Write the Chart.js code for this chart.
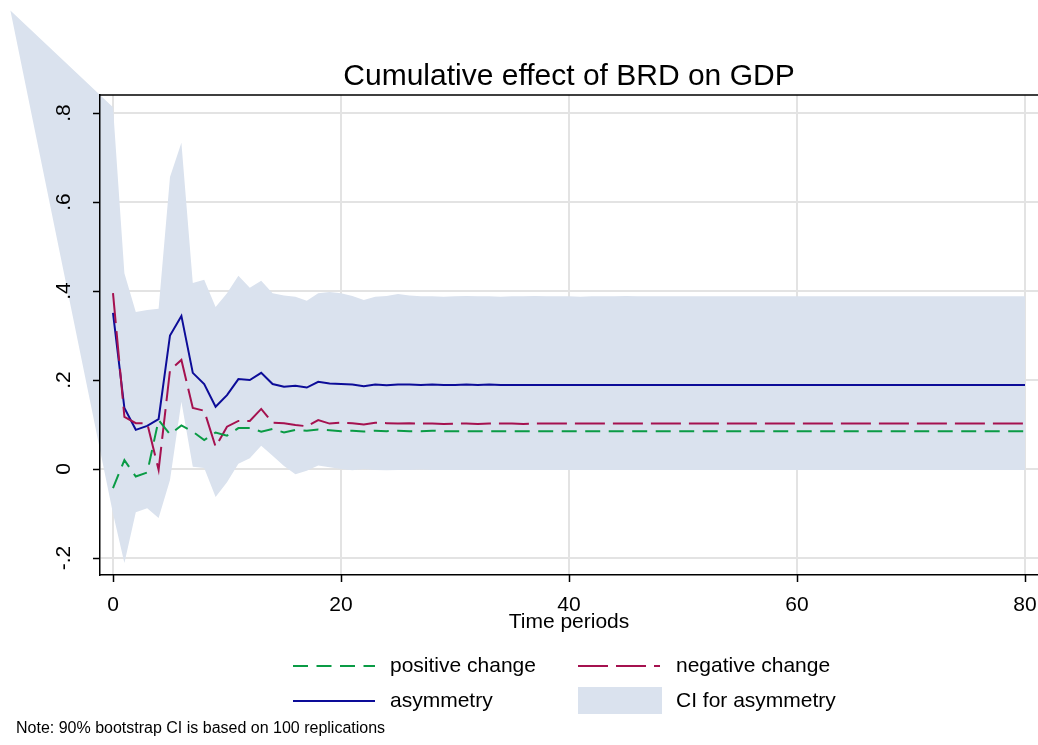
<!DOCTYPE html>
<html>
<head>
<meta charset="utf-8">
<script src="https://cdn.jsdelivr.net/npm/chart.js@4.4.1/dist/chart.umd.min.js"></script>
<style>
  html, body { margin: 0; padding: 0; background: #fff; }
</style>
</head>
<body>
<canvas id="grafico" width="1038" height="745"></canvas>
<script>
// periodos (eixo x)
const periodos = [0, 1, 2, 3, 4, 5, 6, 7, 8, 9, 10, 11, 12, 13, 14, 15, 16, 17, 18, 19, 20,
  21, 22, 23, 24, 25, 26, 27, 28, 29, 30, 31, 32, 33, 34, 35, 36, 37, 38, 39, 40,
  41, 42, 43, 44, 45, 46, 47, 48, 49, 50, 51, 52, 53, 54, 55, 56, 57, 58, 59, 60,
  61, 62, 63, 64, 65, 66, 67, 68, 69, 70, 71, 72, 73, 74, 75, 76, 77, 78, 79, 80]
const xTicks = [0, 20, 40, 60, 80]
const yTicks = [-0.2, 0, 0.2, 0.4, 0.6, 0.8]
const yTickLabels = ['-.2', '0', '.2', '.4', '.6', '.8']

// positive change
const positivo = [-0.043, 0.020, -0.017, -0.008, 0.110, 0.078, 0.098, 0.084, 0.065, 0.082,
  0.075, 0.092, 0.092, 0.084, 0.090, 0.082, 0.088, 0.086, 0.089, 0.087,
  0.085, 0.086, 0.084, 0.086, 0.085, 0.086, 0.085, 0.085, 0.086, 0.085,
  0.085, 0.085, 0.085, 0.085, 0.085, 0.085, 0.085, 0.085, 0.085, 0.085,
  0.085, 0.085, 0.085, 0.085, 0.085, 0.085, 0.085, 0.085, 0.085, 0.085,
  0.085, 0.085, 0.085, 0.085, 0.085, 0.085, 0.085, 0.085, 0.085, 0.085,
  0.085, 0.085, 0.085, 0.085, 0.085, 0.085, 0.085, 0.085, 0.085, 0.085,
  0.085, 0.085, 0.085, 0.085, 0.085, 0.085, 0.085, 0.085, 0.085, 0.085, 0.085]

// negative change
const negativo = [0.395, 0.117, 0.103, 0.103, -0.002, 0.222, 0.245, 0.137, 0.131, 0.050,
  0.095, 0.108, 0.108, 0.135, 0.104, 0.103, 0.099, 0.096, 0.110, 0.102,
  0.104, 0.103, 0.100, 0.104, 0.103, 0.102, 0.103, 0.102, 0.102, 0.101,
  0.102, 0.102, 0.101, 0.102, 0.102, 0.102, 0.101, 0.102, 0.102, 0.102,
  0.102, 0.102, 0.102, 0.102, 0.102, 0.102, 0.102, 0.102, 0.102, 0.102,
  0.102, 0.102, 0.102, 0.102, 0.102, 0.102, 0.102, 0.102, 0.102, 0.102,
  0.102, 0.102, 0.102, 0.102, 0.102, 0.102, 0.102, 0.102, 0.102, 0.102,
  0.102, 0.102, 0.102, 0.102, 0.102, 0.102, 0.102, 0.102, 0.102, 0.102, 0.102]

// asymmetry
const assimetria = [0.351, 0.137, 0.088, 0.097, 0.112, 0.300, 0.344, 0.216, 0.191, 0.140,
  0.166, 0.202, 0.200, 0.216, 0.191, 0.185, 0.187, 0.183, 0.196, 0.192,
  0.191, 0.190, 0.186, 0.190, 0.188, 0.190, 0.190, 0.189, 0.190, 0.189,
  0.189, 0.190, 0.189, 0.190, 0.189, 0.189, 0.189, 0.189, 0.189, 0.189,
  0.189, 0.189, 0.189, 0.189, 0.189, 0.189, 0.189, 0.189, 0.189, 0.189,
  0.189, 0.189, 0.189, 0.189, 0.189, 0.189, 0.189, 0.189, 0.189, 0.189,
  0.189, 0.189, 0.189, 0.189, 0.189, 0.189, 0.189, 0.189, 0.189, 0.189,
  0.189, 0.189, 0.189, 0.189, 0.189, 0.189, 0.189, 0.189, 0.189, 0.189, 0.189]

// CI for asymmetry (o primeiro ponto fica fora do grafico, como no original)
const ciPeriodos = [-9, 0, 1, 2, 3, 4, 5, 6, 7, 8, 9, 10, 11, 12, 13, 14, 15, 16, 17, 18, 19, 20,
  21, 22, 23, 24, 25, 26, 27, 28, 29, 30, 31, 32, 33, 34, 35, 36, 37, 38, 39, 40,
  41, 42, 43, 44, 45, 46, 47, 48, 49, 50, 51, 52, 53, 54, 55, 56, 57, 58, 59, 60,
  61, 62, 63, 64, 65, 66, 67, 68, 69, 70, 71, 72, 73, 74, 75, 76, 77, 78, 79, 80]
const ciSuperior = [1.03,
  0.813, 0.440, 0.353, 0.357, 0.360, 0.656, 0.733, 0.418, 0.425, 0.364,
  0.395, 0.434, 0.407, 0.423, 0.395, 0.390, 0.387, 0.378, 0.395, 0.398,
  0.395, 0.389, 0.380, 0.387, 0.389, 0.393, 0.390, 0.388, 0.388, 0.387,
  0.388, 0.389, 0.388, 0.388, 0.387, 0.388, 0.388, 0.389, 0.388, 0.388,
  0.388, 0.387, 0.388, 0.388, 0.388, 0.389, 0.388, 0.388, 0.388, 0.388,
  0.388, 0.388, 0.388, 0.388, 0.388, 0.388, 0.388, 0.388, 0.388, 0.388,
  0.388, 0.388, 0.388, 0.388, 0.388, 0.388, 0.388, 0.388, 0.388, 0.388,
  0.388, 0.388, 0.388, 0.388, 0.388, 0.388, 0.388, 0.388, 0.388, 0.388, 0.388]
const ciInferior = [1.03,
  -0.100, -0.211, -0.097, -0.088, -0.110, -0.025, 0.151, 0.005, 0.002, -0.063,
  -0.030, 0.012, 0.024, 0.052, 0.030, 0.007, -0.012, -0.004, 0.008, 0.004,
  0.000, -0.003, 0.000, -0.002, -0.003, -0.002, -0.002, -0.001, -0.002, -0.002,
  -0.002, -0.002, -0.002, -0.002, -0.002, -0.002, -0.002, -0.002, -0.002, -0.002,
  -0.002, -0.002, -0.002, -0.002, -0.002, -0.002, -0.002, -0.002, -0.002, -0.002,
  -0.002, -0.002, -0.002, -0.002, -0.002, -0.002, -0.002, -0.002, -0.002, -0.002,
  -0.002, -0.002, -0.002, -0.002, -0.002, -0.002, -0.002, -0.002, -0.002, -0.002,
  -0.002, -0.002, -0.002, -0.002, -0.002, -0.002, -0.002, -0.002, -0.002, -0.002, -0.002]

const fonte = "'Liberation Sans', Arial, Helvetica, sans-serif"
const corVerde = '#0a9b45'
const corVermelho = '#a5114f'
const corAzul = '#0c0c98'
const corFaixa = '#dae2ee'
const corGrade = '#e3e3e3'

Chart.defaults.font.family = fonte
Chart.defaults.color = '#000'

// faixa do intervalo de confianca, desenhada sem recorte (sai do grafico no canto)
const faixaCI = {
  id: 'faixaCI',
  beforeDatasetsDraw(chart) {
    const ctx = chart.ctx
    const x = chart.scales.x
    const y = chart.scales.y
    ctx.save()
    ctx.beginPath()
    for (let i = 0; i < ciPeriodos.length; i++) {
      const px = x.getPixelForValue(ciPeriodos[i])
      const py = y.getPixelForValue(ciSuperior[i])
      if (i === 0) ctx.moveTo(px, py)
      else ctx.lineTo(px, py)
    }
    for (let i = ciPeriodos.length - 1; i >= 0; i--) {
      ctx.lineTo(x.getPixelForValue(ciPeriodos[i]), y.getPixelForValue(ciInferior[i]))
    }
    ctx.closePath()
    ctx.fillStyle = corFaixa
    ctx.fill()
    ctx.restore()
  },
  afterDatasetsDraw(chart) {
    // marcas dos ticks por cima da faixa + linha de cima
    const ctx = chart.ctx
    const area = chart.chartArea
    ctx.save()
    ctx.strokeStyle = '#000'
    ctx.lineWidth = 1.5
    ctx.beginPath()
    chart.scales.y.ticks.forEach(t => {
      const py = Math.round(chart.scales.y.getPixelForValue(t.value)) + 0.5
      ctx.moveTo(area.left - 7, py)
      ctx.lineTo(area.left, py)
    })
    chart.scales.x.ticks.forEach(t => {
      const px = Math.round(chart.scales.x.getPixelForValue(t.value)) + 0.5
      ctx.moveTo(px, area.bottom)
      ctx.lineTo(px, area.bottom + 7)
    })
    ctx.moveTo(area.left, area.top)
    ctx.lineTo(area.right, area.top)
    ctx.stroke()
    ctx.restore()
  }
}

// titulo, legenda e nota no estilo do Stata
const textos = {
  id: 'textos',
  afterDraw(chart) {
    const ctx = chart.ctx
    const area = chart.chartArea
    ctx.save()
    ctx.fillStyle = '#000'
    ctx.textBaseline = 'alphabetic'
    ctx.textAlign = 'center'
    ctx.font = '30px ' + fonte
    ctx.fillText('Cumulative effect of BRD on GDP', (area.left + area.right) / 2, 85)

    ctx.textAlign = 'left'
    ctx.textBaseline = 'middle'
    ctx.font = '21px ' + fonte
    const ds = chart.data.datasets
    const amostra = (x0, yy, d) => {
      ctx.save()
      ctx.strokeStyle = d.borderColor
      ctx.lineWidth = d.borderWidth
      ctx.setLineDash(d.borderDash || [])
      ctx.beginPath()
      ctx.moveTo(x0, yy)
      ctx.lineTo(x0 + 82, yy)
      ctx.stroke()
      ctx.restore()
    }
    amostra(293, 666, ds[0])
    ctx.fillText(ds[0].label, 390, 666)
    amostra(578, 666, ds[1])
    ctx.fillText(ds[1].label, 676, 666)
    amostra(293, 701, ds[2])
    ctx.fillText(ds[2].label, 390, 701)
    ctx.fillStyle = corFaixa
    ctx.fillRect(578, 687, 84, 27)
    ctx.fillStyle = '#000'
    ctx.fillText('CI for asymmetry', 676, 701)

    ctx.font = '16px ' + fonte
    ctx.fillText('Note: 90% bootstrap CI is based on 100 replications', 16, 729)
    ctx.restore()
  }
}

const ctx = document.getElementById('grafico')
let grafico = new Chart(ctx, {
  type: 'line',
  data: {
    labels: periodos,
    datasets: [{
      label: 'positive change',
      data: positivo,
      borderColor: corVerde,
      borderWidth: 2,
      borderDash: [15, 8.5],
      pointRadius: 0,
      fill: false,
      tension: 0
    }, {
      label: 'negative change',
      data: negativo,
      borderColor: corVermelho,
      borderWidth: 2,
      borderDash: [30, 8],
      pointRadius: 0,
      fill: false,
      tension: 0
    }, {
      label: 'asymmetry',
      data: assimetria,
      borderColor: corAzul,
      borderWidth: 2,
      pointRadius: 0,
      fill: false,
      tension: 0
    }]
  },
  options: {
    responsive: false,
    animation: false,
    devicePixelRatio: 1,
    layout: { padding: { top: 95, right: 0, bottom: 110, left: 0 } },
    plugins: {
      legend: { display: false },
      title: { display: false },
      tooltip: { enabled: false }
    },
    scales: {
      x: {
        type: 'linear',
        min: -1.14,
        max: 81.14,
        afterBuildTicks: s => { s.ticks = xTicks.map(v => ({ value: v })) },
        afterFit: s => { s.height = 60; s.paddingLeft = 0; s.paddingRight = 0 },
        ticks: {
          autoSkip: false,
          maxRotation: 0,
          padding: 11,
          font: { size: 21 },
          color: '#000',
          z: 1,
          callback: v => String(v)
        },
        grid: { color: corGrade, lineWidth: 2, tickLength: 7, tickColor: 'rgba(0,0,0,0)' },
        border: { display: true, color: '#000', width: 1.5, z: 1 },
        title: { display: true, text: 'Time periods', font: { size: 21 }, color: '#000', padding: 0 }
      },
      y: {
        min: -0.2382,
        max: 0.8404,
        afterBuildTicks: s => { s.ticks = yTicks.map(v => ({ value: v })) },
        afterFit: s => { s.width = 100; s.paddingTop = 0; s.paddingBottom = 0 },
        ticks: {
          autoSkip: false,
          minRotation: 90,
          maxRotation: 90,
          crossAlign: 'center',
          padding: 17,
          font: { size: 21 },
          color: '#000',
          z: 1,
          callback: (v) => yTickLabels[yTicks.findIndex(t => Math.abs(t - v) < 1e-9)]
        },
        grid: { color: corGrade, lineWidth: 2, tickLength: 7, tickColor: 'rgba(0,0,0,0)' },
        border: { display: true, color: '#000', width: 1.5, z: 1 }
      }
    }
  },
  plugins: [faixaCI, textos]
})
</script>
</body>
</html>
